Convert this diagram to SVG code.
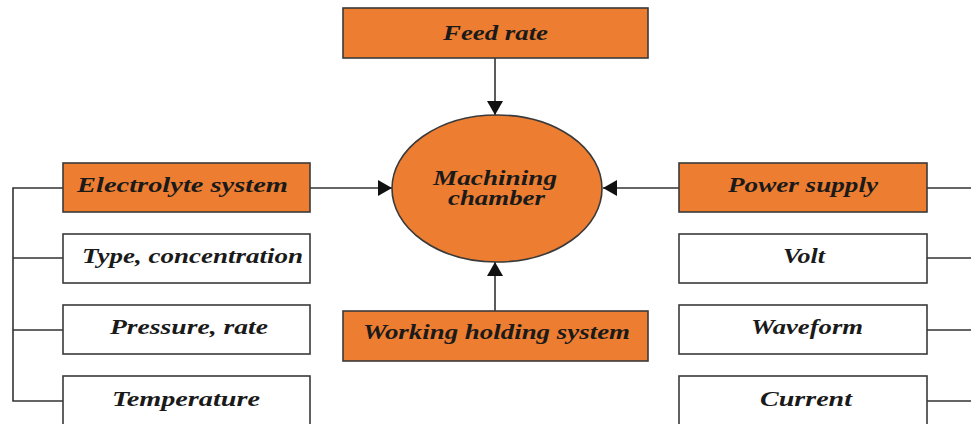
<svg xmlns="http://www.w3.org/2000/svg" width="971" height="424" viewBox="0 0 971 424">
  <style>
    .bg { fill: #ffffff; }
    .box { stroke: #3a3a3a; stroke-width: 1.6; }
    .hot { fill: #ED7D31; }
    .plain { fill: #ffffff; }
    .lbl { font-family: "Liberation Serif", "Times New Roman", serif; font-weight: bold; font-style: italic; font-size: 20.5px; fill: #1a1a1a; text-anchor: middle; }
    .wire { stroke: #333333; stroke-width: 1.6; fill: none; }
  </style>
  <defs>
    <marker id="tip" viewBox="0 0 14 16" refX="14" refY="8" markerWidth="14" markerHeight="16" markerUnits="userSpaceOnUse" orient="auto">
      <path d="M0,0 L14,8 L0,16 Z" fill="#111111"/>
    </marker>
  </defs>
  <rect class="bg" x="0" y="0" width="971" height="424"/>

  <!-- connectors -->
  <g id="connectors">
    <line class="wire" x1="495" y1="58" x2="495" y2="115" marker-end="url(#tip)"/>
    <line class="wire" x1="495" y1="311" x2="495" y2="262" marker-end="url(#tip)"/>
    <line class="wire" x1="310" y1="188" x2="392" y2="188" marker-end="url(#tip)"/>
    <line class="wire" x1="679" y1="188" x2="603" y2="188" marker-end="url(#tip)"/>
    <!-- left bracket -->
    <path class="wire" d="M63,188 H13 V401 H63 M13,258 H63 M13,330 H63"/>
    <!-- right stubs -->
    <path class="wire" d="M927,188 H971 M927,258 H971 M927,330 H971 M927,401 H971"/>
  </g>

  <g id="feed-rate">
    <rect class="box hot" x="343" y="8" width="305" height="50"/>
    <text class="lbl" x="495.5" y="40" textLength="105" lengthAdjust="spacingAndGlyphs">Feed rate</text>
  </g>

  <g id="machining-chamber">
    <ellipse class="box hot" cx="497" cy="188.5" rx="105" ry="73.5"/>
    <text class="lbl" x="495" y="185" textLength="124" lengthAdjust="spacingAndGlyphs">Machining</text>
    <text class="lbl" x="496.5" y="205" textLength="97" lengthAdjust="spacingAndGlyphs">chamber</text>
  </g>

  <g id="working-holding-system">
    <rect class="box hot" x="343" y="311" width="305" height="50"/>
    <text class="lbl" x="496.5" y="339" textLength="267" lengthAdjust="spacingAndGlyphs">Working holding system</text>
  </g>

  <g id="electrolyte-system">
    <rect class="box hot" x="63" y="163" width="247" height="49"/>
    <text class="lbl" x="182.5" y="192" textLength="211" lengthAdjust="spacingAndGlyphs">Electrolyte system</text>
  </g>
  <g id="type-concentration">
    <rect class="box plain" x="63" y="234" width="247" height="49"/>
    <text class="lbl" x="192.5" y="263" textLength="221" lengthAdjust="spacingAndGlyphs">Type, concentration</text>
  </g>
  <g id="pressure-rate">
    <rect class="box plain" x="63" y="305" width="247" height="49"/>
    <text class="lbl" x="189" y="334" textLength="158" lengthAdjust="spacingAndGlyphs">Pressure, rate</text>
  </g>
  <g id="temperature">
    <rect class="box plain" x="63" y="376" width="247" height="50"/>
    <text class="lbl" x="186" y="406" textLength="148" lengthAdjust="spacingAndGlyphs">Temperature</text>
  </g>

  <g id="power-supply">
    <rect class="box hot" x="679" y="163" width="248" height="49"/>
    <text class="lbl" x="803" y="192" textLength="150" lengthAdjust="spacingAndGlyphs">Power supply</text>
  </g>
  <g id="volt">
    <rect class="box plain" x="679" y="234" width="248" height="49"/>
    <text class="lbl" x="804" y="263" textLength="42" lengthAdjust="spacingAndGlyphs">Volt</text>
  </g>
  <g id="waveform">
    <rect class="box plain" x="679" y="305" width="248" height="49"/>
    <text class="lbl" x="807" y="334" textLength="112" lengthAdjust="spacingAndGlyphs">Waveform</text>
  </g>
  <g id="current">
    <rect class="box plain" x="679" y="376" width="248" height="50"/>
    <text class="lbl" x="806" y="406" textLength="92" lengthAdjust="spacingAndGlyphs">Current</text>
  </g>
</svg>
